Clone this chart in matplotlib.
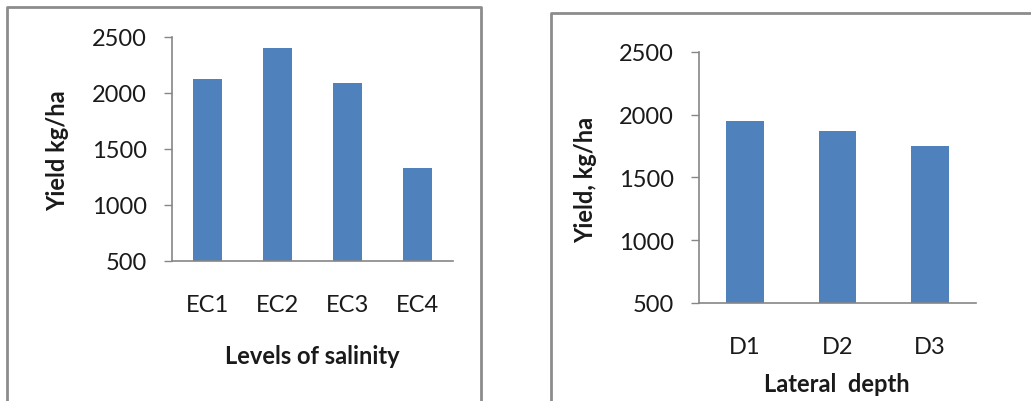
import matplotlib.pyplot as plt
from matplotlib.lines import Line2D

W, H = 1031, 402

salinity = ["EC1", "EC2", "EC3", "EC4"]
salinity_yield = [2125, 2400, 2090, 1330]

depth = ["D1", "D2", "D3"]
depth_yield = [1950, 1870, 1750]

yticks = [500, 1000, 1500, 2000, 2500]

BAR = "#4F81BD"
AXIS = "#868686"
FRAME = "#8c8c8c"
FONT = "Lato"
TXT = "#1a1a1a"


def px_axes(fig, left, right, top, bottom):
    # pixel box -> figure fraction
    return fig.add_axes([left / W, (H - bottom) / H, (right - left) / W, (bottom - top) / H])


def fig_text(x, y, s, **kw):
    fig.text(x / W, (H - y) / H, s, ha="center", va="center", family=FONT,
             fontweight="bold", fontsize=17, color=TXT, **kw)


def bar_panel(ax, cats, vals):
    ax.bar(range(len(cats)), vals, width=0.41, color=BAR, zorder=2)
    ax.set_xlim(-0.5, len(cats) - 0.5)
    ax.set_ylim(500, 2500)
    ax.set_yticks(yticks)
    ax.set_xticks(range(len(cats)))
    ax.set_xticklabels(cats, fontsize=17, family=FONT, color=TXT)
    ax.set_yticklabels([str(v) for v in yticks], fontsize=17, family=FONT, color=TXT)
    ax.tick_params(axis="y", direction="out", length=6, width=1, color=AXIS, pad=12)
    ax.tick_params(axis="x", length=0, pad=24)
    for s in ["top", "right"]:
        ax.spines[s].set_visible(False)
    for s in ["left", "bottom"]:
        ax.spines[s].set_color(AXIS)
        ax.spines[s].set_linewidth(1.2)


fig = plt.figure(figsize=(W / 100, H / 100), dpi=100)

ax1 = px_axes(fig, 172, 453, 38, 262)
bar_panel(ax1, salinity, salinity_yield)
fig_text(58, 151, "Yield kg/ha", rotation=90)
fig_text(312, 357, "Levels of salinity")

ax2 = px_axes(fig, 699, 976, 52.7, 304)
bar_panel(ax2, depth, depth_yield)
fig_text(586, 180, "Yield, kg/ha", rotation=90)
fig_text(837, 385, "Lateral  depth")

# chart borders
def fig_line(xs, ys):
    fig.add_artist(Line2D([x / W for x in xs], [(H - y) / H for y in ys],
                          color=FRAME, linewidth=2, transform=fig.transFigure))

fig_line([7, 7, 481, 481], [402, 8, 8, 402])
fig_line([551, 551, 1031], [402, 14, 14])

fig.savefig("out.png", dpi=100)
